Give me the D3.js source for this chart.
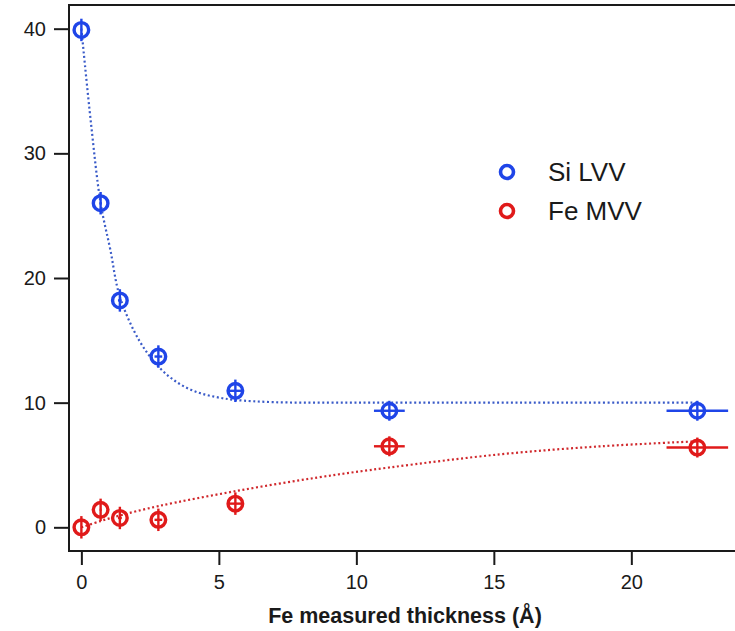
<!DOCTYPE html>
<html>
<head>
<meta charset="utf-8">
<script src="https://cdn.jsdelivr.net/npm/d3@7"></script>
<style>
  body { margin: 0; background: #fff; }
  svg { display: block; font-family: "Liberation Sans", Arial, sans-serif; }
</style>
</head>
<body>
<svg id="chart" width="735" height="631"></svg>
<script>
// measured data
var thickness = [0, 0.7, 1.4, 2.8, 5.6, 11.2, 22.4];
var thicknessErr = [0, 0.035, 0.07, 0.14, 0.28, 0.56, 1.12];
var siLVV = [39.9, 26.0, 18.2, 13.7, 10.95, 9.35, 9.35];
var feMVV = [0, 1.4, 0.75, 0.6, 1.9, 6.5, 6.4];
var signalErr = [0.9, 0.9, 0.9, 0.9, 0.9, 0.8, 0.8];

// fit curves
var siFitX = [0, 0.35, 0.7, 1.05, 1.4, 2.1, 2.8, 3.5, 4.2, 4.9, 5.6, 7, 9, 11.2, 16, 22.4];
var siFitY = [40, 32.4, 26.0, 22.3, 18.5, 15.0, 12.9, 11.6, 10.85, 10.45, 10.22, 10.04, 10.0, 10.0, 10.0, 10.0];
var feFitX = [0, 0.7, 1.4, 2.8, 5.6, 8.6, 11.2, 15.2, 18.9, 22.4];
var feFitY = [0, 0.5, 0.95, 1.7, 2.9, 4.0, 4.8, 5.85, 6.5, 6.9];

var xTicks = [0, 5, 10, 15, 20];
var yTicks = [0, 10, 20, 30, 40];
var seriesNames = ["Si LVV", "Fe MVV"];

var blue = "#1f45e8", red = "#e01a1a";
var blueFit = "#3a5bc8", redFit = "#d0282c";

var svg = d3.select("#chart");

var x = d3.scaleLinear().domain([-0.45, 23.77]).range([69, 735]);
var y = d3.scaleLinear().domain([-1.9, 41.9]).range([551, 5]);

// frame: left, top, bottom
svg.append("path")
  .attr("d", "M735," + y(41.9) + "H" + x(-0.45) + "V" + y(-1.9) + "H735")
  .attr("fill", "none").attr("stroke", "#1a1a1a").attr("stroke-width", 2);

var xAxis = svg.append("g")
  .attr("transform", "translate(0," + y(-1.9) + ")")
  .call(d3.axisBottom(x).tickValues(xTicks).tickSize(14).tickPadding(10));
xAxis.select(".domain").remove();
xAxis.selectAll("line").attr("stroke", "#1a1a1a").attr("stroke-width", 2);
xAxis.selectAll("text").attr("font-size", "20px").attr("fill", "#1a1a1a")
  .attr("font-family", "Liberation Sans, Arial, sans-serif");

var yAxis = svg.append("g")
  .attr("transform", "translate(" + x(-0.45) + ",0)")
  .call(d3.axisLeft(y).tickValues(yTicks).tickSize(15).tickPadding(8));
yAxis.select(".domain").remove();
yAxis.selectAll("line").attr("stroke", "#1a1a1a").attr("stroke-width", 2);
yAxis.selectAll("text").attr("font-size", "20px").attr("fill", "#1a1a1a")
  .attr("font-family", "Liberation Sans, Arial, sans-serif");

svg.append("text")
  .attr("x", 405).attr("y", 623)
  .attr("text-anchor", "middle")
  .attr("font-size", "21.5px").attr("font-weight", "bold").attr("fill", "#1a1a1a")
  .text("Fe measured thickness (Å)");

// fit lines
var line = d3.line()
  .x(function (d) { return x(d[0]); })
  .y(function (d) { return y(d[1]); })
  .curve(d3.curveCatmullRom.alpha(0.5));

svg.append("path")
  .datum(d3.zip(siFitX, siFitY))
  .attr("d", line).attr("fill", "none")
  .attr("stroke", blueFit).attr("stroke-width", 2.2).attr("stroke-dasharray", "2,2.6");
svg.append("path")
  .datum(d3.zip(feFitX, feFitY))
  .attr("d", line).attr("fill", "none")
  .attr("stroke", redFit).attr("stroke-width", 2.2).attr("stroke-dasharray", "2,2.6");

// markers with error bars
function drawSeries(values, color) {
  var g = svg.append("g");
  var pts = thickness.map(function (t, i) {
    return { x: t, y: values[i], ex: thicknessErr[i], ey: signalErr[i] };
  });
  g.selectAll(".ex").data(pts).enter().append("line")
    .attr("x1", function (d) { return x(d.x - d.ex); })
    .attr("x2", function (d) { return x(d.x + d.ex); })
    .attr("y1", function (d) { return y(d.y); })
    .attr("y2", function (d) { return y(d.y); })
    .attr("stroke", color).attr("stroke-width", 2.4);
  g.selectAll(".ey").data(pts).enter().append("line")
    .attr("x1", function (d) { return x(d.x); })
    .attr("x2", function (d) { return x(d.x); })
    .attr("y1", function (d) { return y(d.y - d.ey); })
    .attr("y2", function (d) { return y(d.y + d.ey); })
    .attr("stroke", color).attr("stroke-width", 2.4);
  g.selectAll("circle").data(pts).enter().append("circle")
    .attr("cx", function (d) { return x(d.x); })
    .attr("cy", function (d) { return y(d.y); })
    .attr("r", 7.3)
    .attr("fill", "none").attr("stroke", color).attr("stroke-width", 3.4);
}
drawSeries(siLVV, blue);
drawSeries(feMVV, red);

// legend
var legend = svg.append("g").attr("transform", "translate(507,172)");
seriesNames.forEach(function (name, i) {
  legend.append("circle")
    .attr("cx", 0).attr("cy", i * 39).attr("r", 6.5)
    .attr("fill", "none").attr("stroke", i === 0 ? blue : red).attr("stroke-width", 3.6);
  legend.append("text")
    .attr("x", 41).attr("y", i * 39 + 9)
    .attr("font-size", "26px").attr("fill", "#1a1a1a")
    .text(name);
});
</script>
</body>
</html>
